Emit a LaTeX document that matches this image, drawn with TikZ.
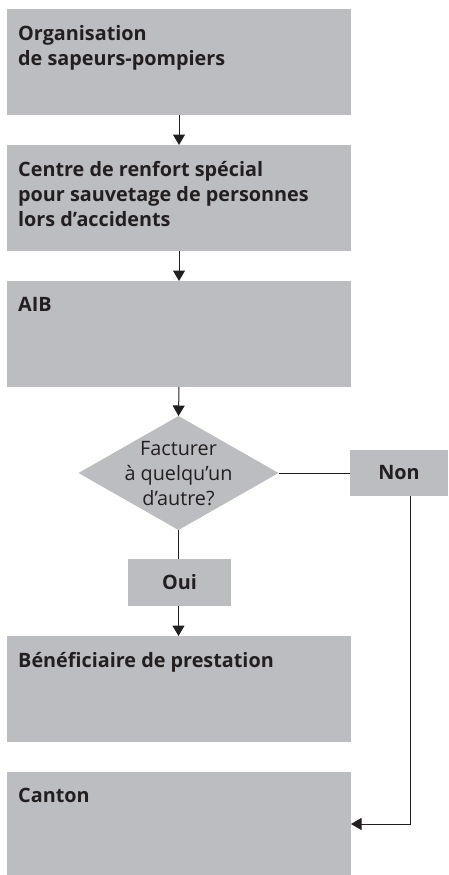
\documentclass[tikz,border=0pt]{standalone}
\usepackage{fontspec}
\setmainfont{Open Sans}
\usetikzlibrary{arrows.meta,shapes.geometric}
\definecolor{boxgray}{HTML}{BCBDC0}
\definecolor{ink}{HTML}{231F20}
\tikzset{
  x=1pt,y=1pt,
  box/.style={fill=boxgray, draw=none, inner sep=0, outer sep=0},
  txt/.style={anchor=north west, inner sep=0, align=left, text=ink,
    font={\fontsize{19.8}{25}\selectfont\bfseries}},
  lbl/.style={text=ink, font={\fontsize{19.8}{25}\selectfont\bfseries}},
  conn/.style={draw=ink, line width=1pt},
  arr/.style={conn, -{Triangle[width=12pt,length=10.5pt]}},
}
\begin{document}
\begin{tikzpicture}
\useasboundingbox (0,0) rectangle (448,-875);
% boxes
\node[box, minimum width=344, minimum height=106, anchor=north west] (b1) at (7,-9) {};
\node[box, minimum width=344, minimum height=106, anchor=north west] (b2) at (7,-145) {};
\node[box, minimum width=344, minimum height=106, anchor=north west] (b3) at (7,-281) {};
\node[box, diamond, aspect=1.75, minimum width=200, minimum height=114] (d) at (178.5,-473) {};
\node[box, minimum width=98, minimum height=46, anchor=north west] (non) at (350,-450) {};
\node[box, minimum width=103, minimum height=47, anchor=north west] (oui) at (128,-559) {};
\node[box, minimum width=344, minimum height=106, anchor=north west] (b4) at (7,-636) {};
\node[box, minimum width=344, minimum height=103, anchor=north west] (b5) at (7,-772) {};
% texts
\node[txt] (t1) at (18,-25) {Organisation\\de sapeurs-pompiers};
\node[txt] (t2) at (18,-161) {Centre de renfort spécial\\pour sauvetage de personnes\\lors d’accidents};
\node[txt] (t3) at (18,-297) {AIB};
\node[txt] (t4) at (18,-652) {Bénéficiaire de prestation};
\node[txt] (t5) at (18,-788) {Canton};
\node[text=ink, align=center, inner sep=0, font={\fontsize{19.8}{25}\selectfont}] (tq) at (178.5,-474) {Facturer\\à quelqu’un\\d’autre?};
\node[lbl] (tn) at (non.center) {Non};
\node[lbl] (to) at (oui.center) {Oui};
% connectors
\coordinate (c1) at (410,-824);
\draw[arr] (b1.south) -- (b2.north);
\draw[arr] (b2.south) -- (b3.north);
\draw[arr] (b3.south) -- (d.north);
\draw[conn] (d.east) -- (non.west);
\draw[conn] (d.south) -- (d.south |- oui.north);
\draw[arr] (oui.south -| d.south) -- (b4.north -| d.south);
\draw[arr] (non.south -| c1) -- (c1) -- (c1 -| b5.east);
\end{tikzpicture}
\end{document}
